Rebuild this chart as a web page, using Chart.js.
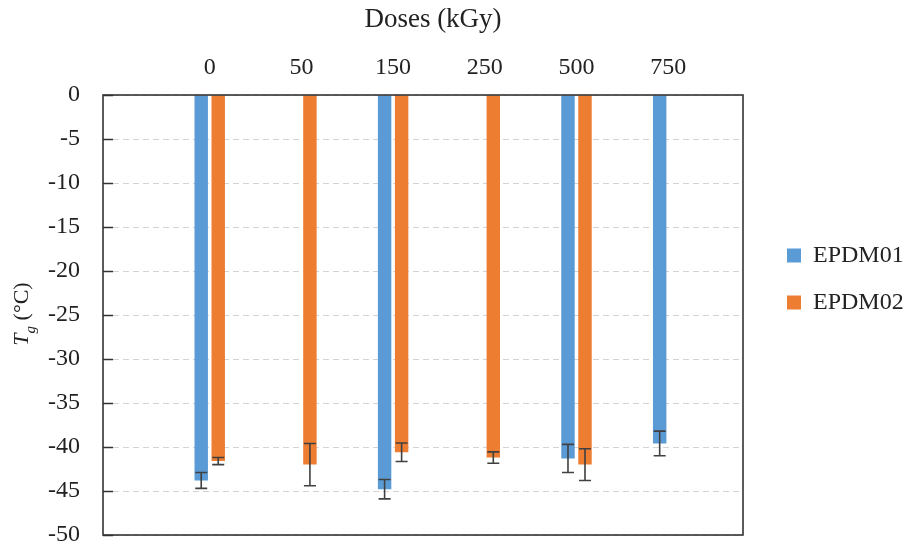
<!DOCTYPE html>
<html><head><meta charset="utf-8">
<script src="https://cdn.jsdelivr.net/npm/chart.js@4.4.1/dist/chart.umd.min.js"></script>
<style>html,body{margin:0;padding:0;background:#fff}</style>
</head><body>
<canvas id="c" width="906" height="548"></canvas>
<script>
// ---- data ----
const categories = ['0', '50', '150', '250', '500', '750'];
const seriesNames = ['EPDM01', 'EPDM02'];
const epdm01 = [-43.8, null, -44.8, null, -41.3, -39.6];
const epdm02 = [-41.6, -42.0, -40.6, -41.2, -42.0, null];
const err01 = [0.9, null, 1.1, null, 1.6, 1.4];
const err02 = [0.4, 2.4, 1.05, 0.65, 1.8, null];
const xTitle = 'Doses (kGy)';
const yTitleMain = 'T', yTitleSub = 'g', yTitleRest = ' (°C)';
const yMin = -50, yMax = 0, yStep = 5;

// ---- style ----
const FONT = "'Liberation Serif', 'Times New Roman', serif";
const FS = 24;
const TXT = '#222';
const BLUE = '#5B9BD5', ORANGE = '#ED7D31';

const mctx = document.createElement('canvas').getContext('2d');
mctx.font = FS + 'px ' + FONT;
const textW = Math.max(...seriesNames.map(s => mctx.measureText(s).width));
const LEG_PAD = 23, BOX = 14;
const LEG_TARGET = 142;
const legendW = LEG_PAD + BOX + FS / 2 + textW + 10;
const padRight = Math.max(0, LEG_TARGET - legendW);

const toXY = arr => arr.map((v, i) => ({x: i, y: v}));

const decor = {
  id: 'decor',
  afterDatasetsDraw(chart) {
    const {ctx, chartArea: a, scales: {y}} = chart;
    ctx.save();
    // error bars
    [[epdm01, err01, 0], [epdm02, err02, 1]].forEach(([vals, errs, di]) => {
      const meta = chart.getDatasetMeta(di);
      meta.data.forEach((bar, i) => {
        if (vals[i] == null || errs[i] == null) return;
        const px = bar.x;
        const y1 = y.getPixelForValue(vals[i] + errs[i]);
        const y2 = y.getPixelForValue(vals[i] - errs[i]);
        ctx.strokeStyle = '#404040';
        ctx.lineWidth = 1.6;
        ctx.beginPath();
        ctx.moveTo(px, y1); ctx.lineTo(px, y2);
        ctx.moveTo(px - 6, y1); ctx.lineTo(px + 6, y1);
        ctx.moveTo(px - 6, y2); ctx.lineTo(px + 6, y2);
        ctx.stroke();
      });
    });
    // inside ticks
    ctx.strokeStyle = '#333';
    ctx.lineWidth = 1.5;
    ctx.beginPath();
    for (let v = yMax; v >= yMin; v -= yStep) {
      const py = Math.round(y.getPixelForValue(v)) + 0.5;
      ctx.moveTo(a.left, py); ctx.lineTo(a.left + 10, py);
    }
    ctx.stroke();
    // frame
    ctx.lineWidth = 1.6;
    ctx.strokeRect(a.left, a.top, a.right - a.left, a.bottom - a.top);
    ctx.restore();
  },
  afterDraw(chart) {
    const {ctx} = chart;
    ctx.save();
    ctx.fillStyle = TXT;
    // x title
    ctx.font = '27px ' + FONT;
    ctx.textAlign = 'center';
    ctx.textBaseline = 'middle';
    ctx.fillText(xTitle, 433, 20);
    // y title (rotated)
    const yfs = 22;
    ctx.translate(28, 314);
    ctx.rotate(-Math.PI / 2);
    ctx.textAlign = 'left';
    ctx.textBaseline = 'alphabetic';
    const fT = 'italic ' + yfs + 'px ' + FONT;
    const fG = 'italic ' + Math.round(yfs * 0.7) + 'px ' + FONT;
    const fR = yfs + 'px ' + FONT;
    ctx.font = fT; const wT = ctx.measureText(yTitleMain).width;
    ctx.font = fG; const wG = ctx.measureText(yTitleSub).width;
    ctx.font = fR; const wR = ctx.measureText(yTitleRest).width;
    let x0 = -(wT + wG + wR) / 2;
    ctx.font = fT; ctx.fillText(yTitleMain, x0, 0); x0 += wT;
    ctx.font = fG; ctx.fillText(yTitleSub, x0, yfs * 0.3); x0 += wG;
    ctx.font = fR; ctx.fillText(yTitleRest, x0, 0);
    ctx.restore();
  }
};

new Chart(document.getElementById('c'), {
  type: 'bar',
  data: {
    datasets: [
      {label: seriesNames[0], data: toXY(epdm01), backgroundColor: BLUE, borderWidth: 0,
       categoryPercentage: 0.371, barPercentage: 0.79},
      {label: seriesNames[1], data: toXY(epdm02), backgroundColor: ORANGE, borderWidth: 0,
       categoryPercentage: 0.371, barPercentage: 0.79}
    ]
  },
  options: {
    responsive: false,
    animation: false,
    layout: {padding: {top: 23, bottom: 13, left: 0, right: padRight}},
    scales: {
      x: {
        type: 'linear', position: 'top', min: -1.164, max: 5.816, offset: false,
        grid: {display: false, drawTicks: false, offset: false},
        border: {display: false},
        ticks: {
          stepSize: 1, autoSkip: false, maxRotation: 0, includeBounds: false,
          padding: 12.6, color: TXT, font: {family: FONT, size: FS},
          callback: v => (Number.isInteger(v) && v >= 0 && v < categories.length) ? categories[v] : ''
        },
        afterFit: s => { s.height = 72; s.paddingLeft = 0; s.paddingRight = 0; }
      },
      y: {
        min: yMin, max: yMax,
        ticks: {stepSize: yStep, padding: 23, color: TXT, font: {family: FONT, size: FS}},
        grid: {color: '#d3d3d3', lineWidth: 1, drawTicks: false},
        border: {display: false, dash: [6, 4]},
        afterFit: s => { s.width = 103; s.paddingTop = 0; s.paddingBottom = 0; }
      },
      yR: {
        position: 'right', display: true, min: yMin, max: yMax,
        grid: {display: false, drawTicks: false}, border: {display: false},
        ticks: {display: false},
        afterFit: s => { s.width = 21; s.paddingTop = 0; s.paddingBottom = 0; }
      }
    },
    plugins: {
      legend: {
        position: 'right',
        maxWidth: LEG_TARGET,
        labels: {boxWidth: BOX, boxHeight: BOX, padding: LEG_PAD, color: TXT,
                 font: {family: FONT, size: FS}}
      },
      tooltip: {enabled: false}
    }
  },
  plugins: [decor]
});
</script>
</body></html>
